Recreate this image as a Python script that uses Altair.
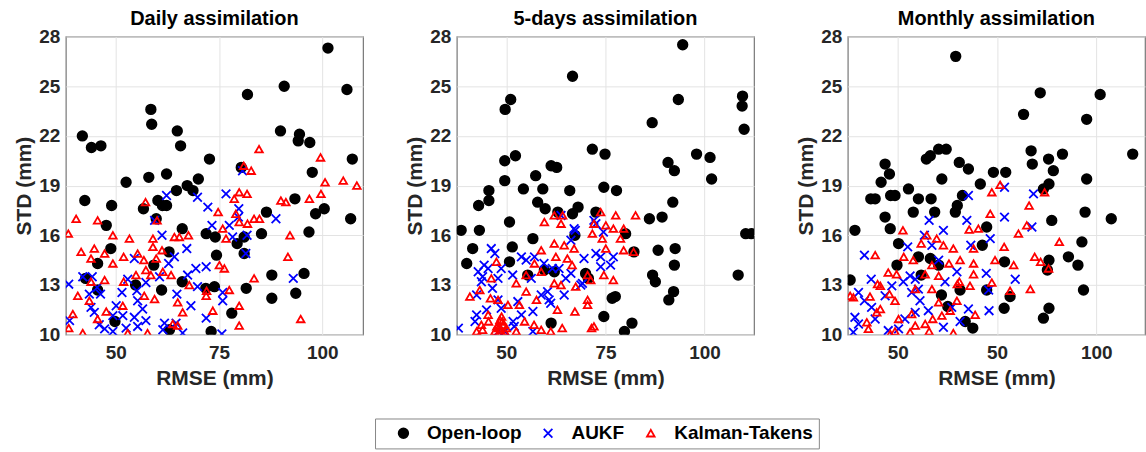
import altair as alt
import pandas as pd

SERIES = ["Open-loop", "AUKF", "Kalman-Takens"]
PANELS = ["Daily assimilation", "5-days assimilation", "Monthly assimilation"]
X_TICKS = [50, 75, 100]
Y_TICKS = [10, 13, 16, 19, 22, 25, 28]

# ---------------- Daily ----------------
daily_ol_x = [101.4, 90.8, 81.9, 106.0, 58.5, 58.7, 41.9, 44.1, 46.4, 64.9, 65.7, 89.9, 94.5, 94.2, 97.0, 72.7,
              97.6, 107.3, 80.4, 52.5, 58.0, 62.3, 70.0, 67.3, 64.7, 68.7, 42.5, 49.0, 60.2, 61.3, 62.3, 56.7,
              59.8, 66.1, 47.7, 71.9, 74.1, 74.4, 85.3, 86.5, 93.4, 98.4, 100.5, 96.8, 106.9, 81.1, 79.4, 81.1,
              48.8, 45.6, 42.7, 45.6, 54.8, 59.2, 62.9, 61.1, 66.1, 71.8, 73.9, 81.6, 87.8, 87.8, 95.6, 93.6,
              78.1, 73.1, 63.0, 49.8]
daily_ol_y = [27.3, 25.0, 24.5, 24.8, 23.6, 22.7, 22.0, 21.3, 21.4, 22.3, 21.4, 22.3, 22.1, 21.7, 21.6, 20.6,
              19.8, 20.6, 20.1, 19.2, 19.5, 19.7, 19.4, 19.0, 18.7, 18.7, 18.1, 17.8, 18.1, 17.8, 17.8, 17.6,
              17.0, 16.4, 16.6, 16.1, 15.9, 14.8, 16.1, 17.4, 18.2, 17.3, 17.6, 16.2, 17.0, 15.9, 15.5, 14.9,
              15.2, 14.3, 13.4, 12.7, 13.0, 14.2, 15.0, 12.7, 13.2, 12.8, 12.9, 12.8, 13.6, 12.2, 13.7, 12.5,
              11.3, 10.2, 10.3, 10.8]
daily_aukf_x = [80.7, 62.3, 69.8, 76.7, 72.3, 79.8, 79.7, 88.8, 59.4, 73.3, 77.5, 61.2, 78.3, 81.8, 67.2, 64.2,
                62.8, 54.5, 71.9, 69.4, 67.4, 60.6, 52.9, 42.0, 44.3, 38.6, 45.5, 46.3, 43.6, 51.5, 55.1, 57.3,
                69.8, 75.9, 75.9, 64.8, 68.2, 55.3, 50.1, 44.0, 44.8, 49.3, 51.7, 54.5, 57.3, 61.8, 64.6, 71.9,
                46.0, 47.3, 49.3, 52.5, 55.3, 66.2, 75.7, 61.4, 38.8, 56.5, 93.0, 81.5]
daily_aukf_y = [19.9, 18.4, 18.3, 18.5, 17.7, 17.6, 17.1, 17.0, 16.9, 16.6, 16.6, 16.0, 15.9, 16.0, 15.2, 14.7,
                14.3, 14.6, 14.1, 14.0, 13.6, 13.5, 13.35, 13.5, 13.5, 13.05, 12.85, 12.45, 12.45, 12.55, 12.65, 13.15,
                12.9, 12.55, 12.05, 12.45, 11.75, 12.05, 11.75, 11.65, 11.35, 11.15, 11.15, 11.05, 10.85, 10.7, 10.7, 11.0,
                10.6, 10.35, 10.2, 10.4, 10.5, 10.1, 10.05, 10.3, 10.85, 11.55, 13.4, 14.9]
daily_kt_x = [84.7, 99.6, 81.0, 82.8, 100.7, 105.1, 108.4, 99.7, 96.9, 90.0, 91.2, 79.9, 81.8, 78.7, 57.2, 74.8,
              79.1, 79.9, 81.9, 83.5, 84.8, 60.0, 40.4, 45.6, 38.5, 49.3, 53.3, 59.0, 64.2, 65.4, 67.6, 75.9,
              76.7, 92.2, 59.0, 61.2, 44.8, 41.6, 47.3, 51.9, 55.3, 56.8, 59.8, 44.0, 49.3, 75.1, 76.3, 91.7,
              57.3, 58.5, 61.4, 63.4, 54.9, 51.9, 47.3, 44.0, 67.8, 72.0, 71.9, 77.5, 83.5, 40.8, 43.6, 56.9,
              59.4, 51.7, 65.0, 47.7, 39.6, 66.2, 73.5, 79.9, 45.6, 63.8, 65.0, 79.9, 94.8, 38.6, 42.0, 52.9,
              57.7]
daily_kt_y = [21.2, 20.7, 20.2, 19.9, 19.2, 19.3, 19.0, 18.5, 18.2, 18.1, 18.0, 18.6, 18.5, 18.2, 18.0, 17.4,
              17.3, 16.8, 16.7, 17.0, 17.0, 16.9, 17.0, 16.9, 16.1, 16.0, 15.8, 15.8, 15.9, 15.9, 16.0, 16.4,
              15.8, 16.0, 15.3, 15.1, 15.2, 15.0, 14.9, 14.7, 14.9, 14.5, 14.6, 14.6, 14.3, 14.2, 14.0, 14.7,
              13.9, 13.6, 13.8, 13.6, 13.6, 13.2, 13.3, 13.2, 13.0, 12.65, 12.35, 12.7, 13.4, 12.35, 12.05, 12.35,
              12.15, 11.75, 11.95, 11.4, 11.25, 11.35, 11.45, 11.75, 10.95, 10.65, 10.55, 10.55, 10.95, 10.4, 10.1, 10.1,
              10.1]

# ---------------- 5-days ----------------
five_ol_x = [94.5, 66.7, 51.1, 49.7, 109.6, 109.5, 93.4, 86.8, 110.0, 71.7, 74.9, 98.0, 101.4, 52.3, 49.6, 90.8,
             92.4, 101.8, 49.6, 54.3, 57.4, 59.2, 61.3, 62.7, 66.0, 74.6, 77.8, 45.6, 45.6, 43.0, 57.9, 59.8,
             63.0, 72.6, 68.1, 66.7, 92.0, 86.1, 89.3, 50.8, 38.6, 43.2, 56.7, 67.3, 80.1, 110.4, 111.8, 51.5,
             41.5, 92.6, 88.3, 82.2, 40.0, 50.8, 92.4, 55.4, 59.6, 62.1, 70.0, 70.7, 86.9, 87.6, 108.5, 92.2,
             91.0, 76.7, 77.5, 74.6, 61.3, 81.7, 79.8]
five_ol_y = [27.5, 25.6, 24.2, 23.6, 24.4, 23.8, 24.2, 22.8, 22.4, 21.2, 20.9, 20.9, 20.7, 20.8, 20.5, 20.4,
             19.9, 19.4, 19.3, 18.8, 19.6, 18.8, 20.2, 20.1, 18.7, 18.9, 18.7, 18.7, 18.1, 17.8, 18.0, 17.6,
             17.4, 17.4, 17.7, 17.3, 18.0, 17.0, 17.1, 16.8, 16.3, 16.3, 15.8, 16.0, 16.1, 16.1, 16.1, 15.3,
             15.2, 15.2, 15.1, 15.0, 14.3, 14.4, 14.2, 13.6, 13.9, 13.8, 13.7, 13.4, 13.6, 13.2, 13.6, 12.6,
             12.1, 12.2, 12.3, 11.1, 10.7, 10.7, 10.2]
five_aukf_x = [63.8, 67.4, 46.2, 47.1, 66.3, 72.6, 74.5, 72.6, 73.8, 77.0, 76.3, 73.8, 69.6, 53.8, 55.0, 57.1,
               44.4, 45.4, 42.9, 48.7, 51.6, 61.6, 63.3, 56.3, 66.3, 68.8, 64.6, 60.4, 60.8, 61.2, 58.8, 47.9,
               43.7, 42.5, 47.9, 48.7, 52.9, 53.8, 56.7, 51.7, 42.5, 42.1, 48.0, 37.9, 56.7, 49.6, 72.1, 67.1,
               65.0, 69.2, 44.0, 46.5, 45.0, 52.0, 59.5]
five_aukf_y = [17.2, 16.3, 15.2, 14.9, 15.7, 16.7, 16.2, 14.9, 14.7, 14.7, 14.2, 14.1, 14.6, 14.7, 14.5, 14.7,
               14.2, 14.0, 13.8, 14.0, 13.6, 14.0, 14.0, 13.4, 13.7, 13.0, 12.4, 12.6, 12.1, 11.9, 12.4, 13.4,
               13.2, 12.4, 12.1, 11.6, 12.0, 11.2, 11.4, 10.8, 11.2, 10.8, 10.2, 10.4, 10.2, 10.2, 16.9, 16.4,
               13.4, 13.1, 13.5, 12.8, 11.5, 10.5, 14.3]
five_kt_x = [62.1, 64.2, 59.6, 63.8, 73.8, 77.6, 82.6, 72.1, 75.1, 77.0, 71.7, 74.2, 78.8, 79.6, 62.1, 64.6,
             67.1, 75.1, 79.6, 82.1, 58.8, 57.1, 62.5, 65.4, 66.6, 47.5, 55.0, 58.8, 62.1, 63.8, 67.5, 70.5,
             71.3, 74.6, 77.0, 46.2, 43.3, 52.5, 55.0, 40.8, 46.0, 47.9, 50.4, 53.3, 57.6, 62.9, 67.3, 70.5,
             70.5, 45.4, 57.0, 54.6, 43.7, 42.5, 48.0, 48.4, 48.0, 49.2, 49.6, 47.1, 52.5, 58.8, 61.2, 64.1,
             71.5, 72.1, 48.5, 49.0, 47.6, 50.0, 48.8, 44.0, 45.5]
five_kt_y = [17.2, 17.2, 16.8, 16.7, 17.4, 17.2, 17.2, 16.7, 16.6, 16.4, 16.1, 15.8, 15.8, 16.4, 15.5, 15.4,
             15.2, 15.2, 15.1, 15.0, 15.1, 14.3, 14.7, 14.6, 14.2, 14.4, 13.6, 13.8, 13.1, 13.0, 12.9, 13.6,
             13.3, 13.6, 13.3, 13.4, 12.7, 13.1, 12.6, 12.3, 12.2, 12.1, 11.8, 11.8, 12.1, 11.5, 11.4, 12.1,
             11.8, 11.2, 10.6, 10.8, 10.6, 10.2, 10.6, 10.9, 10.4, 10.6, 10.2, 10.2, 10.2, 10.3, 10.2, 10.4,
             10.4, 10.5, 10.3, 10.8, 10.5, 10.4, 11.1, 10.3, 10.8]

# ---------------- Monthly ----------------
month_ol_x = [64.6, 85.9, 101.0, 81.7, 97.6, 109.2, 91.5, 83.6, 83.9, 88.0, 89.2, 88.1, 86.7, 97.6, 97.2, 88.8,
              103.8, 96.4, 93.0, 95.4, 96.8, 88.1, 87.7, 88.1, 86.7, 46.8, 47.9, 45.8, 43.2, 44.3, 48.2, 49.3,
              46.8, 48.1, 39.2, 38.0, 52.7, 55.2, 58.4, 53.9, 59.3, 57.2, 58.2, 60.3, 62.2, 61.1, 65.5, 67.8,
              66.3, 65.0, 64.5, 70.8, 74.1, 77.2, 72.4, 71.3, 50.2, 49.8, 55.2, 58.2, 55.9, 60.3, 61.0, 65.7,
              72.4, 76.9, 78.3, 76.8, 62.6, 67.0, 68.9]
month_ol_y = [26.8, 24.6, 24.5, 23.3, 23.0, 20.9, 20.9, 21.1, 20.3, 20.6, 19.9, 19.1, 18.8, 19.4, 17.4, 16.9,
              17.0, 15.6, 14.7, 14.2, 12.7, 14.5, 13.9, 11.6, 11.0, 20.3, 19.7, 19.2, 18.2, 18.2, 18.4, 18.4,
              17.1, 16.4, 16.3, 13.3, 18.8, 18.2, 18.2, 17.4, 17.4, 20.6, 20.8, 21.2, 21.2, 19.4, 20.4, 20.0,
              18.4, 17.8, 17.4, 19.1, 19.8, 19.8, 16.5, 15.4, 15.5, 14.2, 14.7, 14.6, 13.6, 14.2, 12.4, 12.7,
              12.7, 14.4, 12.3, 11.6, 11.7, 10.8, 10.4]
month_aukf_x = [67.8, 76.9, 84.2, 67.4, 76.9, 83.8, 57.9, 61.5, 56.7, 73.3, 52.5, 58.6, 68.4, 41.6, 60.3, 72.3,
                79.6, 72.9, 64.9, 61.9, 53.1, 51.4, 54.4, 55.2, 53.5, 48.5, 43.3, 40.1, 46.8, 41.6, 43.4, 55.6,
                57.7, 54.4, 63.6, 67.8, 73.0, 65.7, 61.5, 51.8, 50.2, 47.6, 44.3, 39.2, 38.8, 40.1]
month_aukf_y = [18.4, 18.9, 18.5, 16.9, 17.1, 16.5, 16.9, 16.3, 16.0, 15.8, 15.3, 15.4, 15.4, 14.8, 14.5, 13.7,
                13.35, 12.7, 13.8, 13.2, 13.55, 13.2, 13.35, 12.75, 12.55, 12.95, 13.35, 12.55, 12.35, 12.05, 11.65, 12.05,
                11.45, 11.35, 11.65, 11.55, 11.45, 10.8, 10.45, 10.95, 10.35, 10.25, 10.95, 11.05, 10.15, 10.65]
month_kt_x = [75.8, 73.7, 87.0, 83.1, 73.3, 68.0, 70.3, 82.5, 80.4, 90.7, 51.3, 57.3, 55.9, 59.8, 61.5, 64.0,
              76.8, 69.1, 44.3, 51.5, 53.9, 58.6, 62.9, 65.7, 69.1, 74.5, 79.2, 84.5, 86.0, 88.0, 47.6, 49.7,
              56.9, 60.3, 65.5, 69.1, 73.7, 44.9, 45.6, 47.9, 54.4, 58.6, 65.0, 64.9, 68.2, 78.3, 83.4, 38.0,
              38.8, 43.0, 49.3, 44.7, 45.6, 50.2, 60.3, 61.1, 63.2, 69.5, 42.2, 42.6, 48.1, 49.3, 53.1, 54.4,
              56.9, 57.9, 58.8, 64.0, 53.5]
month_kt_y = [19.05, 18.6, 18.6, 17.8, 17.3, 16.35, 16.4, 16.6, 16.1, 15.6, 16.3, 16.0, 15.5, 15.8, 15.4, 15.2,
              15.3, 15.2, 14.8, 14.7, 14.5, 14.2, 14.3, 14.5, 14.3, 14.5, 14.2, 14.7, 14.4, 14.0, 13.75, 13.65,
              13.65, 13.55, 13.2, 13.65, 13.15, 13.05, 12.95, 12.45, 12.75, 12.75, 13.05, 12.05, 12.95, 12.65, 12.75, 12.35,
              12.25, 12.3, 12.05, 11.35, 11.55, 10.95, 11.95, 11.15, 11.45, 11.2, 10.75, 10.35, 10.05, 10.2, 10.15, 10.55,
              10.65, 10.2, 10.95, 10.1, 11.25]

panel_data = [
    (daily_ol_x, daily_ol_y, daily_aukf_x, daily_aukf_y, daily_kt_x, daily_kt_y),
    (five_ol_x, five_ol_y, five_aukf_x, five_aukf_y, five_kt_x, five_kt_y),
    (month_ol_x, month_ol_y, month_aukf_x, month_aukf_y, month_kt_x, month_kt_y),
]
x_domains = [[37.9, 109.9], [37.5, 112.5], [37.4, 112.3]]

X_PATH = "M-1,-1L1,1M1,-1L-1,1"
FONT = "Liberation Sans"


def make_panel(i):
    ox, oy, ax, ay, kx, ky = panel_data[i]
    rows = []
    for s, xs, ys in zip(SERIES, (ox, ax, kx), (oy, ay, ky)):
        for xv, yv in zip(xs, ys):
            rows.append({"series": s, "RMSE": xv, "STD": yv})
    df = pd.DataFrame(rows)
    if i == 2:
        x_axis = alt.Axis(values=X_TICKS, title="RMSE (mm)", labelFlush=False, labelOverlap=False,
                          labelPadding=9, titlePadding=5,
                          labelExpr="datum.value == 75 ? '50' : datum.label")
    else:
        x_axis = alt.Axis(values=X_TICKS, title="RMSE (mm)", labelFlush=False, labelOverlap=False,
                          labelPadding=9, titlePadding=5)
    legend = alt.Legend(orient="none", legendX=310, legendY=383, direction="horizontal",
                        title=" ", titleOrient="left", titlePadding=14, titleFontSize=4)
    return alt.Chart(df).mark_point(opacity=1, strokeWidth=1.8, clip=True).encode(
        x=alt.X("RMSE:Q", scale=alt.Scale(domain=x_domains[i], nice=False, zero=False), axis=x_axis),
        y=alt.Y("STD:Q", scale=alt.Scale(domain=[10, 28], nice=False, zero=False),
                axis=alt.Axis(values=Y_TICKS, title="STD (mm)", labelFlush=False, labelOverlap=False)),
        shape=alt.Shape("series:N", scale=alt.Scale(domain=SERIES, range=["circle", X_PATH, "triangle-up"]),
                        legend=legend),
        stroke=alt.Stroke("series:N", scale=alt.Scale(domain=SERIES, range=["#000000", "#0000ff", "#ff0000"]),
                          legend=legend),
        fill=alt.Fill("series:N", scale=alt.Scale(domain=SERIES, range=["#000000", "transparent", "transparent"]),
                      legend=legend),
        size=alt.Size("series:N", scale=alt.Scale(domain=SERIES, range=[92, 58, 75]), legend=legend),
    ).properties(
        width=298, height=299,
        title=alt.Title(PANELS[i], fontSize=20, fontWeight="bold", font=FONT, color="#000000", offset=-1),
    )


chart = alt.hconcat(make_panel(0), make_panel(1), make_panel(2), spacing=40).properties(
    padding={"left": 13, "top": 7, "right": 0, "bottom": 0},
).configure_view(
    stroke="#777777", strokeWidth=1.2,
).configure_axis(
    labelFont=FONT, labelFontSize=19, labelFontWeight="bold", labelColor="#262626", labelPadding=6,
    titleFont=FONT, titleFontSize=21, titleFontWeight="bold", titleColor="#262626", titlePadding=4,
    grid=True, gridColor="#e3e3e3", gridWidth=1, ticks=False, domain=False,
).configure_legend(
    labelFont=FONT, labelFontSize=19, labelFontWeight="bold", labelColor="#000000",
    strokeColor="#888888", fillColor="#ffffff", padding=5, columnPadding=17, labelOffset=14,
    symbolStrokeWidth=1.8,
)

chart.save("out.html", embed_options={"renderer": "svg", "actions": False})
